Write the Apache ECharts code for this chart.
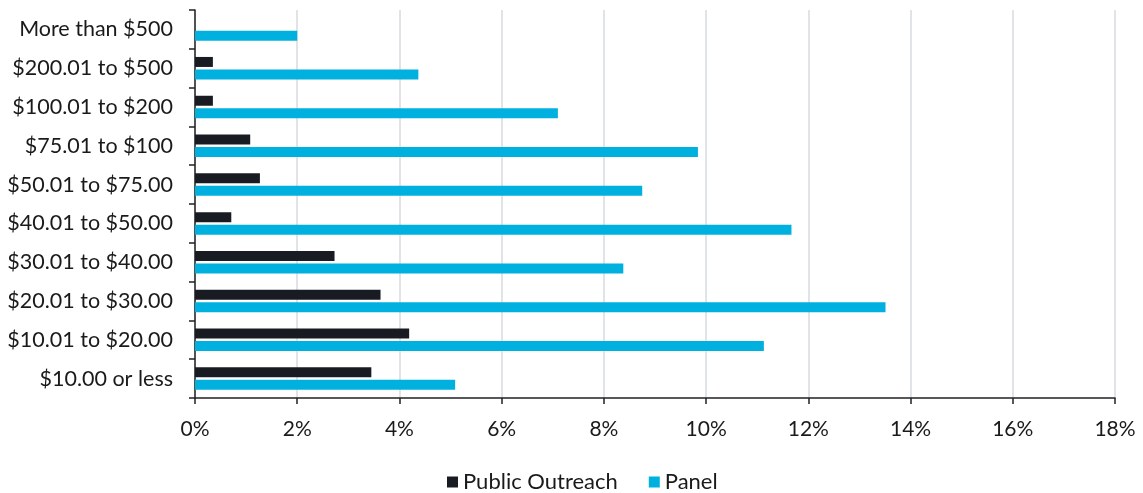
<!DOCTYPE html>
<html>
<head>
<meta charset="utf-8">
<script src="https://cdn.jsdelivr.net/npm/echarts@6/dist/echarts.min.js"></script>
<style>
html,body{margin:0;padding:0;background:#fff;}
#chart{width:1143px;height:493px;}
</style>
</head>
<body>
<div id="chart"></div>
<script>
// Categories listed bottom to top
const categories = [
  "$10.00 or less",
  "$10.01 to $20.00",
  "$20.01 to $30.00",
  "$30.01 to $40.00",
  "$40.01 to $50.00",
  "$50.01 to $75.00",
  "$75.01 to $100",
  "$100.01 to $200",
  "$200.01 to $500",
  "More than $500"
];
const publicOutreach = [3.45, 4.19, 3.63, 2.73, 0.71, 1.27, 1.08, 0.35, 0.35, 0];
const panel = [5.09, 11.13, 13.51, 8.38, 11.67, 8.75, 9.84, 7.10, 4.37, 2.0];
const seriesNames = ["Public Outreach", "Panel"];

const FONT = "Lato, 'Open Sans', sans-serif";
const chart = echarts.init(document.getElementById('chart'), null, {renderer: 'canvas'});
chart.setOption({
  backgroundColor: '#ffffff',
  animation: false,
  textStyle: {fontFamily: FONT, color: '#1a1a1a'},
  grid: {left: 195, right: 28, top: 10, bottom: 95, containLabel: false},
  legend: {
    data: seriesNames,
    top: 466,
    left: 442,
    icon: 'rect',
    itemWidth: 11,
    itemHeight: 11,
    itemGap: 31,
    textStyle: {fontFamily: FONT, fontSize: 22, color: '#1a1a1a'}
  },
  xAxis: {
    type: 'value',
    min: 0,
    max: 18,
    interval: 2,
    axisLine: {show: true, lineStyle: {color: '#222', width: 1.5}},
    axisTick: {show: true, length: 6, lineStyle: {color: '#222', width: 1.5}},
    axisLabel: {formatter: '{value}%', fontSize: 21, color: '#1a1a1a', margin: 21, fontFamily: FONT},
    splitLine: {show: true, lineStyle: {color: '#d6dbe1', width: 1.5}}
  },
  yAxis: {
    type: 'category',
    data: categories,
    inverse: false,
    axisLine: {show: true, lineStyle: {color: '#222', width: 1.5}},
    axisTick: {show: true, length: 6, lineStyle: {color: '#222', width: 1.5}},
    axisLabel: {fontSize: 21.5, color: '#1a1a1a', margin: 22, fontFamily: FONT},
    splitLine: {show: false}
  },
  series: [
    {
      name: seriesNames[0],
      type: 'bar',
      data: publicOutreach,
      barWidth: 10,
      barGap: '25%',
      itemStyle: {color: '#181c22'}
    },
    {
      name: seriesNames[1],
      type: 'bar',
      data: panel,
      barWidth: 10,
      barGap: '25%',
      itemStyle: {color: '#00b0df'}
    }
  ]
});
</script>
</body>
</html>
